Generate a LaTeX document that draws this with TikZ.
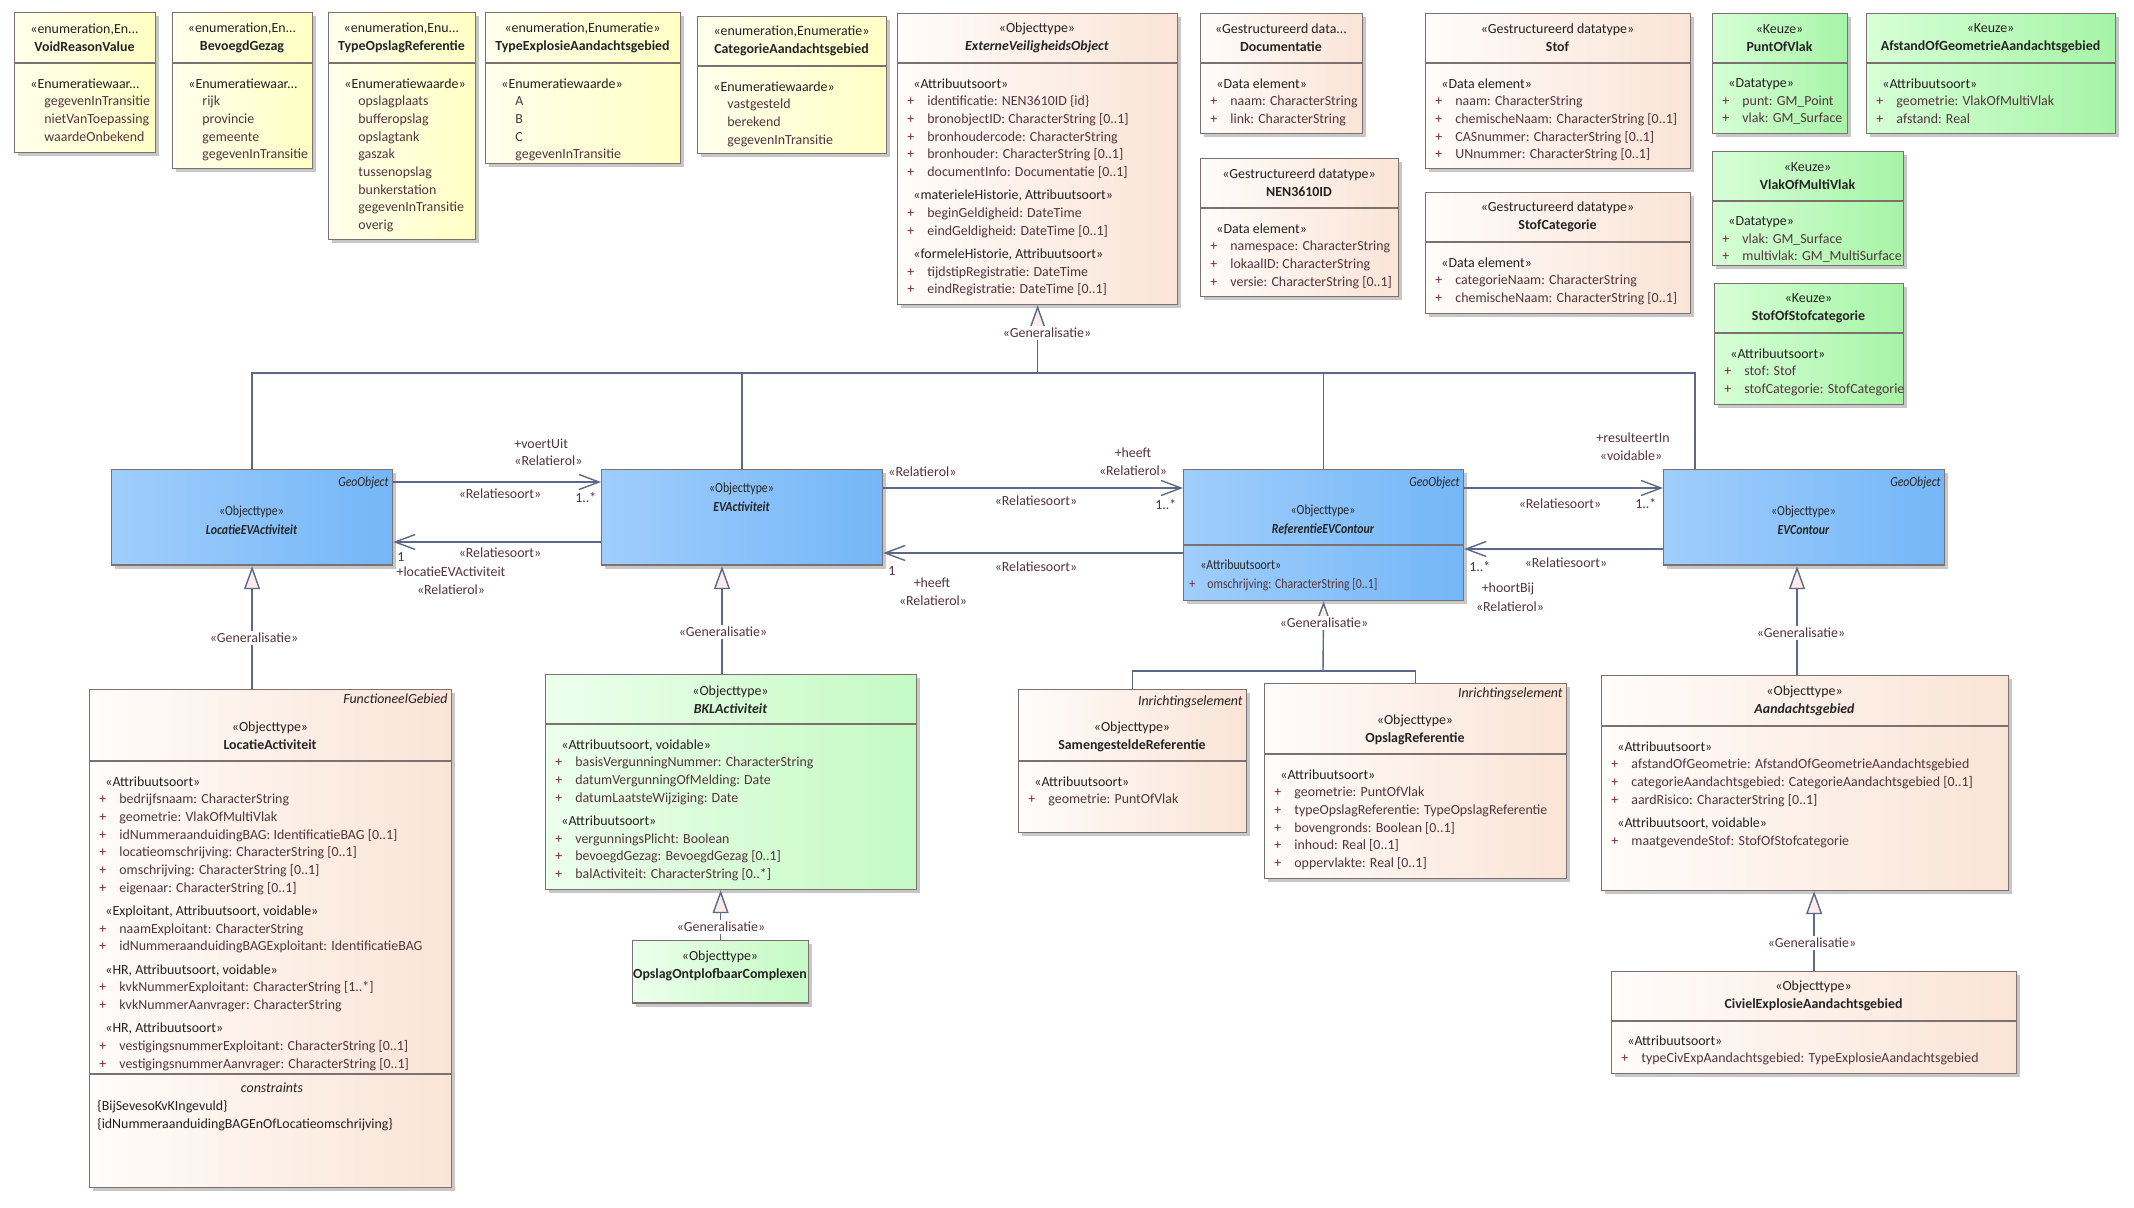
\documentclass[tikz,border=0pt]{standalone}
\usepackage{fontspec}
\setmainfont{Carlito}
\newfontfamily\narrowfont[FakeStretch=0.85]{Carlito}
\usetikzlibrary{positioning, arrows.meta, shadows}

\definecolor{boxline}{RGB}{125,112,112}
\definecolor{connc}{RGB}{92,104,136}
\definecolor{attrc}{RGB}{84,52,60}
\definecolor{stc}{RGB}{36,32,32}
\definecolor{plusc}{RGB}{122,32,64}
\definecolor{namec}{RGB}{36,36,36}
\definecolor{enumL}{RGB}{255,255,236}
\definecolor{enumR}{RGB}{255,255,196}
\definecolor{objL}{RGB}{255,252,250}
\definecolor{objR}{RGB}{250,228,214}
\definecolor{geoL}{RGB}{160,206,252}
\definecolor{geoR}{RGB}{116,182,248}
\definecolor{keuzeL}{RGB}{214,255,214}
\definecolor{keuzeR}{RGB}{166,244,166}
\definecolor{bklL}{RGB}{236,255,236}
\definecolor{bklR}{RGB}{196,250,196}
\definecolor{trifill}{RGB}{250,236,232}

\newcommand{\uml}{\fontsize{6.95pt}{8.85pt}\selectfont}
\newcommand{\umlnarrow}{\narrowfont\fontsize{6.95pt}{9.5pt}\selectfont}
\newcommand{\pl}{\makebox[10pt][l]{\textcolor{plusc}{+}}}
\newcommand{\ind}{\hspace*{10pt}}
\newcommand{\grp}[1]{\hspace*{3pt}\textcolor{stc}{#1}}
\newcommand{\stt}[1]{\textcolor{stc}{#1}}
\newcommand{\lbr}{\symbol{123}}
\newcommand{\rbr}{\symbol{125}}

\tikzset{
  umlbox/.style={draw=boxline, line width=0.6pt, anchor=north west, inner sep=0pt,
    drop shadow={shadow xshift=1.6pt, shadow yshift=-1.6pt, fill=black, opacity=0.22}},
  enumbox/.style={umlbox, left color=enumL, right color=enumR},
  objbox/.style={umlbox, left color=objL, right color=objR},
  geobox/.style={umlbox, left color=geoL, right color=geoR},
  keuzebox/.style={umlbox, left color=keuzeL, right color=keuzeR},
  bklbox/.style={umlbox, left color=bklL, right color=bklR},
  compart/.style={draw=boxline, line width=0.6pt},
  head/.style={align=center, inner sep=0pt, font=\uml, text=namec},
  geohead/.style={head, font=\umlnarrow},
  body/.style={anchor=north west, align=left, inner sep=0pt, yshift=-1pt, font=\uml, text=attrc},
  tag/.style={anchor=north east, inner sep=1.5pt, font=\uml\itshape, text=stc},
  lbl/.style={inner sep=0pt, font=\uml, text=attrc},
  genlbl/.style={lbl, fill=white, inner sep=1pt},
  conn/.style={draw=connc, line width=0.7pt},
  assoc/.style={conn, -{Straight Barb[length=10pt, width=7.5pt]}},
  gen/.style={conn, -{Triangle[length=11.5pt, width=8pt, fill=trifill]}},
}

% class box: name, style, x1, y1, x2, y2, compartment line
\newcommand{\umlclass}[7]{%
  \node[#2, minimum width={(#5-#3)*0.5pt}, minimum height={(#6-#4)*0.5pt}] (#1) at (#3,#4) {};
  \draw[compart] (#3,#7) -- (#5,#7);
}

\begin{document}
\begin{tikzpicture}[x=0.5pt, y=-0.5pt]
\useasboundingbox (0,0) rectangle (2134,1208);
\fill[white] (0,0) rectangle (2134,1208);

% Enumerations
\umlclass{voidr}{enumbox}{14}{12}{155}{152}{63}
\node[head] (voidr-h) at (84.5,38) {\stt{«enumeration,En...}\\\textbf{VoidReasonValue}};
\node[body] (voidr-b) at (24,76) {\grp{«Enumeratiewaar...}\\\ind gegevenInTransitie\\\ind nietVanToepassing\\\ind waardeOnbekend};

\umlclass{bevg}{enumbox}{172}{12}{312}{168}{63}
\node[head] (bevg-h) at (242,38) {\stt{«enumeration,En...}\\\textbf{BevoegdGezag}};
\node[body] (bevg-b) at (182,76) {\grp{«Enumeratiewaar...}\\\ind rijk\\\ind provincie\\\ind gemeente\\\ind gegevenInTransitie};

\umlclass{topsl}{enumbox}{328}{12}{475}{239}{63}
\node[head] (topsl-h) at (401.5,38) {\stt{«enumeration,Enu...}\\\textbf{TypeOpslagReferentie}};
\node[body] (topsl-b) at (338,76) {\grp{«Enumeratiewaarde»}\\\ind opslagplaats\\\ind bufferopslag\\\ind opslagtank\\\ind gaszak\\\ind tussenopslag\\\ind bunkerstation\\\ind gegevenInTransitie\\\ind overig};

\umlclass{texpl}{enumbox}{485}{12}{680}{163}{63}
\node[head] (texpl-h) at (582.5,38) {\stt{«enumeration,Enumeratie»}\\\textbf{TypeExplosieAandachtsgebied}};
\node[body] (texpl-b) at (495,76) {\grp{«Enumeratiewaarde»}\\\ind A\\\ind B\\\ind C\\\ind gegevenInTransitie};

\umlclass{catag}{enumbox}{697}{16}{886}{153}{66}
\node[head] (catag-h) at (791.5,41) {\stt{«enumeration,Enumeratie»}\\\textbf{CategorieAandachtsgebied}};
\node[body] (catag-b) at (707,79) {\grp{«Enumeratiewaarde»}\\\ind vastgesteld\\\ind berekend\\\ind gegevenInTransitie};

% Supertype
\umlclass{evo}{objbox}{897}{13}{1177}{304}{63}
\node[head] (evo-h) at (1037,38) {\stt{«Objecttype»}\\\textbf{\textit{ExterneVeiligheidsObject}}};
\node[body] (evo-b) at (907,76) {\grp{«Attribuutsoort»}\\
\pl identificatie: NEN3610ID \lbr id\rbr\\
\pl bronobjectID: CharacterString [0..1]\\
\pl bronhoudercode: CharacterString\\
\pl bronhouder: CharacterString [0..1]\\
\pl documentInfo: Documentatie [0..1]\\[2.8pt]
\grp{«materieleHistorie, Attribuutsoort»}\\
\pl beginGeldigheid: DateTime\\
\pl eindGeldigheid: DateTime [0..1]\\[2.8pt]
\grp{«formeleHistorie, Attribuutsoort»}\\
\pl tijdstipRegistratie: DateTime\\
\pl eindRegistratie: DateTime [0..1]};

% Data types
\umlclass{docu}{objbox}{1200}{13}{1362}{133}{63}
\node[head] (docu-h) at (1281,38) {\stt{«Gestructureerd data...}\\\textbf{Documentatie}};
\node[body] (docu-b) at (1210,76) {\grp{«Data element»}\\\pl naam: CharacterString\\\pl link: CharacterString};

\umlclass{nenid}{objbox}{1200}{158}{1398}{296}{208}
\node[head] (nenid-h) at (1299,183) {\stt{«Gestructureerd datatype»}\\\textbf{NEN3610ID}};
\node[body] (nenid-b) at (1210,221) {\grp{«Data element»}\\\pl namespace: CharacterString\\\pl lokaalID: CharacterString\\\pl versie: CharacterString [0..1]};

\umlclass{stof}{objbox}{1425}{13}{1690}{168}{63}
\node[head] (stof-h) at (1557.5,38) {\stt{«Gestructureerd datatype»}\\\textbf{Stof}};
\node[body] (stof-b) at (1435,76) {\grp{«Data element»}\\\pl naam: CharacterString\\\pl chemischeNaam: CharacterString [0..1]\\\pl CASnummer: CharacterString [0..1]\\\pl UNnummer: CharacterString [0..1]};

\umlclass{stofcat}{objbox}{1425}{192}{1690}{313}{242}
\node[head] (stofcat-h) at (1557.5,217) {\stt{«Gestructureerd datatype»}\\\textbf{StofCategorie}};
\node[body] (stofcat-b) at (1435,255) {\grp{«Data element»}\\\pl categorieNaam: CharacterString\\\pl chemischeNaam: CharacterString [0..1]};

% Keuze types
\umlclass{puntvlak}{keuzebox}{1712}{13}{1847}{133}{63}
\node[head] (puntvlak-h) at (1779.5,38) {\stt{«Keuze»}\\\textbf{PuntOfVlak}};
\node[body] (puntvlak-b) at (1722,76) {\grp{«Datatype»}\\\pl punt: GM\_Point\\\pl vlak: GM\_Surface};

\umlclass{afstand}{keuzebox}{1866}{13}{2115}{133}{63}
\node[head] (afstand-h) at (1990.5,38) {\stt{«Keuze»}\\\textbf{AfstandOfGeometrieAandachtsgebied}};
\node[body] (afstand-b) at (1876,76) {\grp{«Attribuutsoort»}\\\pl geometrie: VlakOfMultiVlak\\\pl afstand: Real};

\umlclass{vlakmv}{keuzebox}{1712}{151}{1903}{265}{201}
\node[head] (vlakmv-h) at (1807.5,176) {\stt{«Keuze»}\\\textbf{VlakOfMultiVlak}};
\node[body] (vlakmv-b) at (1722,214) {\grp{«Datatype»}\\\pl vlak: GM\_Surface\\\pl multivlak: GM\_MultiSurface};

\umlclass{stofofcat}{keuzebox}{1714}{283}{1903}{404}{333}
\node[head] (stofofcat-h) at (1808.5,308) {\stt{«Keuze»}\\\textbf{StofOfStofcategorie}};
\node[body] (stofofcat-b) at (1724,346) {\grp{«Attribuutsoort»}\\\pl stof: Stof\\\pl stofCategorie: StofCategorie};

% Geo objects
\umlclass{locev}{geobox}{111}{469}{392}{565}{565}
\node[tag, font=\umlnarrow\itshape, text=namec] (locev-t) at (392,473) {GeoObject};
\node[geohead] (locev-h) at (251.5,520) {«Objecttype»\\\textbf{\textit{LocatieEVActiviteit}}};

\umlclass{evact}{geobox}{601}{469}{882}{565}{565}
\node[geohead] (evact-h) at (741.5,497) {«Objecttype»\\\textbf{\textit{EVActiviteit}}};

\umlclass{refev}{geobox}{1183}{469}{1463}{600}{545}
\node[tag, font=\umlnarrow\itshape, text=namec] (refev-t) at (1463,473) {GeoObject};
\node[geohead] (refev-h) at (1323,520) {«Objecttype»\\\textbf{\textit{ReferentieEVContour}}};
\node[body, font=\umlnarrow, text=namec] (refev-b) at (1189,557) {\hspace*{5.5pt}«Attribuutsoort»\\\makebox[9pt][l]{\textcolor{plusc}{+}}\textcolor{attrc}{omschrijving: CharacterString [0..1]}};

\umlclass{evcont}{geobox}{1663}{469}{1944}{565}{565}
\node[tag, font=\umlnarrow\itshape, text=namec] (evcont-t) at (1944,473) {GeoObject};
\node[geohead] (evcont-h) at (1803.5,520) {«Objecttype»\\\textbf{\textit{EVContour}}};

% Subtypes
\umlclass{locact}{objbox}{89}{689}{451}{1187}{761}
\draw[compart] (89,1074) -- (451,1074);
\node[tag] (locact-t) at (451,690) {FunctioneelGebied};
\node[head] (locact-h) at (270,736) {\stt{«Objecttype»}\\\textbf{LocatieActiviteit}};
\node[body] (locact-b) at (99,774) {\grp{«Attribuutsoort»}\\
\pl bedrijfsnaam: CharacterString\\
\pl geometrie: VlakOfMultiVlak\\
\pl idNummeraanduidingBAG: IdentificatieBAG [0..1]\\
\pl locatieomschrijving: CharacterString [0..1]\\
\pl omschrijving: CharacterString [0..1]\\
\pl eigenaar: CharacterString [0..1]\\[2.8pt]
\grp{«Exploitant, Attribuutsoort, voidable»}\\
\pl naamExploitant: CharacterString\\
\pl idNummeraanduidingBAGExploitant: IdentificatieBAG\\[2.8pt]
\grp{«HR, Attribuutsoort, voidable»}\\
\pl kvkNummerExploitant: CharacterString [1..*]\\
\pl kvkNummerAanvrager: CharacterString\\[2.8pt]
\grp{«HR, Attribuutsoort»}\\
\pl vestigingsnummerExploitant: CharacterString [0..1]\\
\pl vestigingsnummerAanvrager: CharacterString [0..1]};
\node[lbl, font=\uml\itshape, text=stc] (locact-c) at (272,1088) {constraints};
\node[body, text=stc] (locact-cb) at (97,1098) {\lbr BijSevesoKvKIngevuld\rbr\\\lbr idNummeraanduidingBAGEnOfLocatieomschrijving\rbr};

\umlclass{bkl}{bklbox}{545}{674}{916}{889}{724}
\node[head] (bkl-h) at (730.5,699.5) {\stt{«Objecttype»}\\\textbf{\textit{BKLActiviteit}}};
\node[body] (bkl-b) at (555,737) {\grp{«Attribuutsoort, voidable»}\\
\pl basisVergunningNummer: CharacterString\\
\pl datumVergunningOfMelding: Date\\
\pl datumLaatsteWijziging: Date\\[2.8pt]
\grp{«Attribuutsoort»}\\
\pl vergunningsPlicht: Boolean\\
\pl bevoegdGezag: BevoegdGezag [0..1]\\
\pl balActiviteit: CharacterString [0..*]};

\umlclass{ooc}{bklbox}{632}{940}{808}{1003}{1003}
\node[head] (ooc-h) at (720,966) {\stt{«Objecttype»}\\\textbf{OpslagOntplofbaarComplexen}};

\umlclass{samref}{objbox}{1018}{689}{1246}{832}{761}
\node[tag] (samref-t) at (1246,692) {Inrichtingselement};
\node[head] (samref-h) at (1132,737) {\stt{«Objecttype»}\\\textbf{SamengesteldeReferentie}};
\node[body] (samref-b) at (1028,774) {\grp{«Attribuutsoort»}\\\pl geometrie: PuntOfVlak};

\umlclass{opsref}{objbox}{1264}{683}{1566}{878}{754}
\node[tag] (opsref-t) at (1566,684) {Inrichtingselement};
\node[head] (opsref-h) at (1415,729.5) {\stt{«Objecttype»}\\\textbf{OpslagReferentie}};
\node[body] (opsref-b) at (1274,767) {\grp{«Attribuutsoort»}\\
\pl geometrie: PuntOfVlak\\
\pl typeOpslagReferentie: TypeOpslagReferentie\\
\pl bovengronds: Boolean [0..1]\\
\pl inhoud: Real [0..1]\\
\pl oppervlakte: Real [0..1]};

\umlclass{aand}{objbox}{1601}{675}{2008}{890}{726}
\node[head] (aand-h) at (1804.5,700.5) {\stt{«Objecttype»}\\\textbf{\textit{Aandachtsgebied}}};
\node[body] (aand-b) at (1611,739) {\grp{«Attribuutsoort»}\\
\pl afstandOfGeometrie: AfstandOfGeometrieAandachtsgebied\\
\pl categorieAandachtsgebied: CategorieAandachtsgebied [0..1]\\
\pl aardRisico: CharacterString [0..1]\\[2.8pt]
\grp{«Attribuutsoort, voidable»}\\
\pl maatgevendeStof: StofOfStofcategorie};

\umlclass{civ}{objbox}{1611}{971}{2016}{1073}{1021}
\node[head] (civ-h) at (1813.5,996) {\stt{«Objecttype»}\\\textbf{CivielExplosieAandachtsgebied}};
\node[body] (civ-b) at (1621,1033) {\grp{«Attribuutsoort»}\\\pl typeCivExpAandachtsgebied: TypeExplosieAandachtsgebied};

% Generalisations to ExterneVeiligheidsObject
\coordinate (bus) at (1695,373);
\draw[conn] (locev.north) |- (bus) -- (evcont.north -| bus);
\draw[conn] (evact.north) -- (evact.north |- bus);
\draw[conn] (refev.north) -- (refev.north |- bus);
\draw[gen] (evo.south |- bus) -- (evo.south);
\node[genlbl] (g-evo) at (1047,333) {«Generalisatie»};

% Generalisations below
\draw[gen] (locev.south |- locact.north) -- (locev.south);
\node[genlbl] (g-locev) at (254,638) {«Generalisatie»};
\coordinate (g2) at (722,620);
\draw[gen] (g2 |- bkl.north) -- (g2 |- evact.south);
\node[genlbl] (g-evact) at (723,632) {«Generalisatie»};
\draw[gen] (ooc.north) -- (ooc.north |- bkl.south);
\node[genlbl] (g-bkl) at (721,927) {«Generalisatie»};
\coordinate (tree) at (1323,671);
\draw[conn] (samref.north) |- (tree) -| (opsref.north);
\draw[gen] (tree) -- (refev.south);
\node[genlbl] (g-refev) at (1324,623) {«Generalisatie»};
\coordinate (g4) at (1797,620);
\draw[gen] (g4 |- aand.north) -- (g4 |- evcont.south);
\node[genlbl] (g-evcont) at (1801,633) {«Generalisatie»};
\draw[gen] (civ.north) -- (civ.north |- aand.south);
\node[genlbl] (g-aand) at (1812,943) {«Generalisatie»};

% Associations
\draw[assoc] ([yshift=-6.5pt]locev.north east) -- ([yshift=-6.5pt]evact.north west);
\draw[assoc] ([yshift=-36.5pt]evact.north west) -- ([yshift=-36.5pt]locev.north east);
\draw[assoc] ([yshift=-9.5pt]evact.north east) -- ([yshift=-9.5pt]refev.north west);
\draw[assoc] ([yshift=-42pt]refev.north west) -- ([yshift=-42pt]evact.north east);
\draw[assoc] ([yshift=-9.5pt]refev.north east) -- ([yshift=-9.5pt]evcont.north west);
\draw[assoc] ([yshift=-40pt]evcont.north west) -- ([yshift=-40pt]refev.north east);

% Association labels
\node[lbl, anchor=west] (voertuit) at (514,444) {+voertUit};
\node[lbl, anchor=west] (voertuit-s) at (514,461) {«Relatierol»};
\node[lbl] (a1-soort) at (500,494) {«Relatiesoort»};
\node[lbl, anchor=west] (a1-mult) at (575,498) {1..*};
\node[lbl] (a2-soort) at (500,553) {«Relatiesoort»};
\node[lbl, anchor=west] (a2-mult) at (397,557) {1};
\node[lbl] (a2-role) at (451,572) {+locatieEVActiviteit};
\node[lbl] (a2-s) at (451,590) {«Relatierol»};
\node[lbl, anchor=west] (a3-s0) at (888,472) {«Relatierol»};
\node[lbl] (a3-role) at (1133,453) {+heeft};
\node[lbl] (a3-s) at (1133,471) {«Relatierol»};
\node[lbl] (a3-soort) at (1036,501) {«Relatiesoort»};
\node[lbl, anchor=west] (a3-mult) at (1155,505) {1..*};
\node[lbl] (a4-soort) at (1036,567) {«Relatiesoort»};
\node[lbl, anchor=west] (a4-mult) at (888,571) {1};
\node[lbl] (a4-role) at (932,583) {+heeft};
\node[lbl] (a4-s) at (933,601) {«Relatierol»};
\node[lbl] (a5-role) at (1633,438) {+resulteertIn};
\node[lbl] (a5-s) at (1631,456) {«voidable»};
\node[lbl] (a5-soort) at (1560,504) {«Relatiesoort»};
\node[lbl, anchor=west] (a5-mult) at (1635,504) {1..*};
\node[lbl] (a6-soort) at (1566,563) {«Relatiesoort»};
\node[lbl, anchor=west] (a6-mult) at (1469,567) {1..*};
\node[lbl] (a6-role) at (1508,589) {+hoortBij};
\node[lbl] (a6-s) at (1510,607) {«Relatierol»};

\end{tikzpicture}
\end{document}
